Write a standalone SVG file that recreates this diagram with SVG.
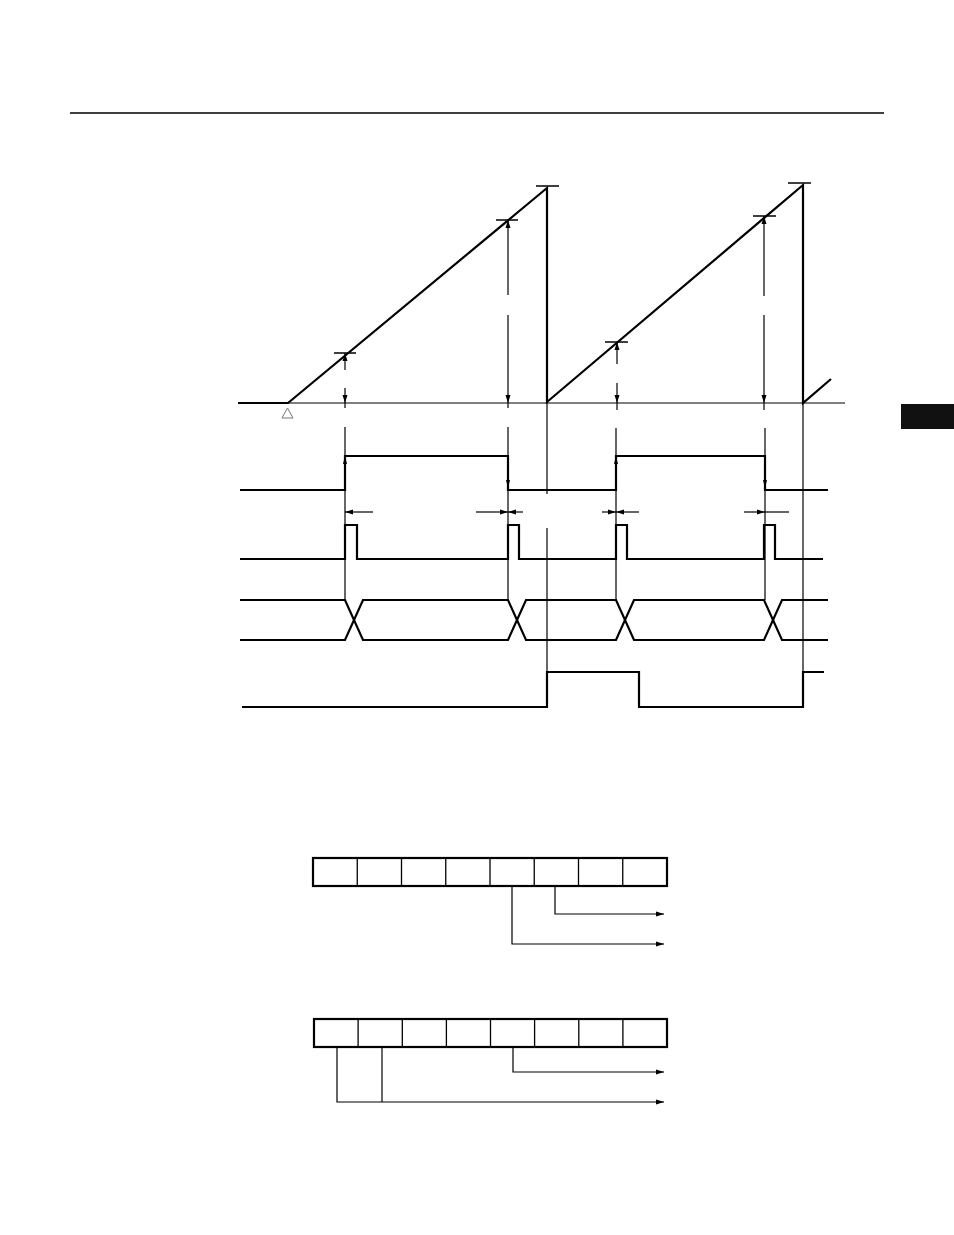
<svg xmlns="http://www.w3.org/2000/svg" width="954" height="1235" viewBox="0 0 954 1235">
<style>
.th{stroke:#000;stroke-width:1.2;fill:none}
.tk{stroke:#000;stroke-width:1.5;fill:none}
.bd{stroke:#000;stroke-width:2.2;fill:none;stroke-linejoin:miter}
.ar{stroke:#000;stroke-width:1.2;fill:none;marker-end:url(#ah)}
.cell{stroke:#000;stroke-width:1.3}
.frame{stroke:#000;stroke-width:2.2;fill:#fff}
</style>
<defs>
<marker id="ah" markerUnits="userSpaceOnUse" markerWidth="8" markerHeight="6" refX="8" refY="3" orient="auto">
<path d="M0,0.5 L8,3 L0,5.5 z" fill="#000"/>
</marker>
</defs>
<rect x="0" y="0" width="954" height="1235" fill="#fff"/>
<g id="header">
<line x1="70" y1="113" x2="884" y2="113" stroke="#000" stroke-width="1.6"/>
<rect x="901" y="404" width="53" height="25" fill="#111"/>
</g>
<g id="sawtooth">
<line class="th" x1="238" y1="403" x2="845" y2="403"/>
<path class="bd" d="M238,403 H288 L547,188 V402 L803,185 V403 L831,379"/>
<g class="tk">
<line x1="536" y1="186" x2="559" y2="186"/>
<line x1="788" y1="183" x2="811" y2="183"/>
<line x1="334" y1="353" x2="356" y2="353"/>
<line x1="496" y1="220" x2="518" y2="220"/>
<line x1="605" y1="342" x2="628" y2="342"/>
<line x1="753" y1="216" x2="776" y2="216"/>
</g>
<polygon points="287.5,408 282,418 293,418" fill="none" stroke="#777" stroke-width="1"/>
</g>
<g id="dimensions">
<line class="ar" x1="345" y1="370" x2="345" y2="353"/>
<line class="ar" x1="345" y1="388" x2="345" y2="403"/>
<line class="th" x1="345" y1="403" x2="345" y2="408"/>
<line class="ar" x1="508" y1="295" x2="508" y2="220"/>
<line class="ar" x1="508" y1="315" x2="508" y2="403"/>
<line class="th" x1="508" y1="403" x2="508" y2="408"/>
<line class="ar" x1="617" y1="364" x2="617" y2="342"/>
<line class="ar" x1="617" y1="383" x2="617" y2="403"/>
<line class="th" x1="617" y1="403" x2="617" y2="410"/>
<line class="ar" x1="764" y1="296" x2="764" y2="216"/>
<line class="ar" x1="764" y1="315" x2="764" y2="403"/>
<line class="th" x1="764" y1="403" x2="764" y2="410"/>
</g>
<g id="connectors">
<line class="th" x1="547" y1="402" x2="547" y2="494"/>
<line class="th" x1="547" y1="528" x2="547" y2="672"/>
<line class="th" x1="803" y1="403" x2="803" y2="672"/>
<line class="th" x1="345" y1="427" x2="345" y2="600"/>
<line class="th" x1="508" y1="427" x2="508" y2="600"/>
<line class="th" x1="616" y1="428" x2="616" y2="600"/>
<line class="th" x1="765" y1="428" x2="765" y2="600"/>
<g fill="#000">
<polygon points="345,456 343,464 347,464"/>
<polygon points="508,488 506,480 510,480"/>
<polygon points="616,456 614,464 618,464"/>
<polygon points="765,488 763,480 767,480"/>
</g>
<line class="ar" x1="373" y1="512" x2="345" y2="512"/>
<line class="ar" x1="476" y1="512" x2="508" y2="512"/>
<line class="ar" x1="523" y1="512" x2="508" y2="512"/>
<line class="ar" x1="602" y1="512" x2="616" y2="512"/>
<line class="ar" x1="639" y1="512" x2="616" y2="512"/>
<line class="ar" x1="744" y1="512" x2="765" y2="512"/>
<line class="th" x1="765" y1="512" x2="789" y2="512"/>
</g>
<g id="signal1">
<path class="bd" d="M240,490 H345 V456 H508 V490 H616 V456 H765 V490 H828"/>
</g>
<g id="signal2">
<path class="bd" d="M240,559 H345 V525 H357 V559 H508 V525 H519 V559 H616 V525 H627 V559 H764 V525 H775 V559 H823"/>
</g>
<g id="signal3">
<path class="bd" d="M240,600 H345 L363,640 H508 L526,600 H616 L634,640 H764 L782,600 H828"/>
<path class="bd" d="M240,640 H345 L363,600 H508 L526,640 H616 L634,600 H764 L782,640 H828"/>
</g>
<g id="signal4">
<path class="bd" d="M242,707 H547 V672 H639 V707 H803 V672 H824"/>
</g>
<g id="register1">
<rect class="frame" x="313" y="858" width="354" height="28"/>
<g class="cell">
<line x1="357.25" y1="858" x2="357.25" y2="886"/>
<line x1="401.5" y1="858" x2="401.5" y2="886"/>
<line x1="445.75" y1="858" x2="445.75" y2="886"/>
<line x1="490" y1="858" x2="490" y2="886"/>
<line x1="534.25" y1="858" x2="534.25" y2="886"/>
<line x1="578.5" y1="858" x2="578.5" y2="886"/>
<line x1="622.75" y1="858" x2="622.75" y2="886"/>
</g>
</g>
<g id="register1-links">
<path class="ar" d="M555,887 V914 H664"/>
<path class="ar" d="M512,887 V944 H664"/>
</g>
<g id="register2">
<rect class="frame" x="314" y="1019" width="353" height="28"/>
<g class="cell">
<line x1="358.1" y1="1019" x2="358.1" y2="1047"/>
<line x1="402.3" y1="1019" x2="402.3" y2="1047"/>
<line x1="446.4" y1="1019" x2="446.4" y2="1047"/>
<line x1="490.5" y1="1019" x2="490.5" y2="1047"/>
<line x1="534.6" y1="1019" x2="534.6" y2="1047"/>
<line x1="578.8" y1="1019" x2="578.8" y2="1047"/>
<line x1="622.9" y1="1019" x2="622.9" y2="1047"/>
</g>
</g>
<g id="register2-links">
<path class="ar" d="M513,1048 V1072 H664"/>
<path class="ar" d="M337,1048 V1102 H664"/>
<line class="th" x1="382" y1="1048" x2="382" y2="1102"/>
</g>
</svg>
